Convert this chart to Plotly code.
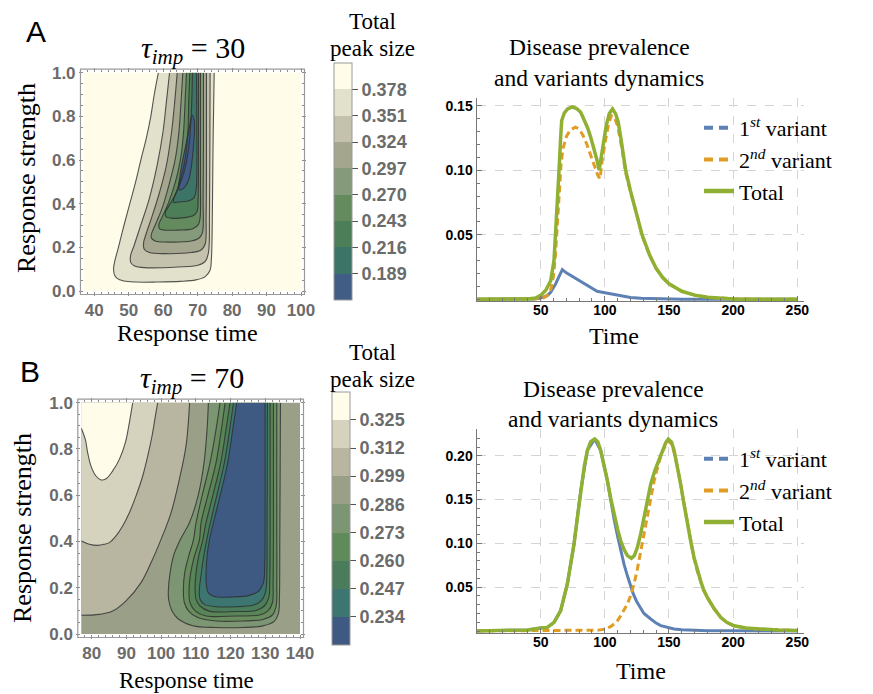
import plotly.graph_objects as go

W, H = 873, 694
OFFSET = 8  # the page shows the figure 8 px right of and below the window corner

# ---------------- Panel A : contour (tau_imp = 30) ----------------
A_levels = [0.189, 0.216, 0.243, 0.270, 0.297, 0.324, 0.351, 0.378]
A_colors = ["#415c85", "#3d7468", "#4c7e58", "#648b5e", "#849a7a",
            "#a4a68e", "#c4c2ac", "#e2e1cc", "#fffde9"]
A_time_ticks = [40, 50, 60, 70, 80, 90, 100]
A_time_range = [37, 100]

# contour boundaries (response time, response strength)
A_c378_x = [58.6, 57.4, 56.4, 55.1, 53.5, 52.0, 50.3, 48.6, 47.0, 46.0, 45.6, 45.8, 46.6,
            48.6, 52.0, 58.0, 65.0, 69.5, 72.2, 73.6, 74.0, 74.3, 74.5, 74.8]
A_c378_y = [1.0, 0.9, 0.8, 0.7, 0.6, 0.5, 0.4, 0.3, 0.2, 0.14, 0.105, 0.076, 0.058,
            0.046, 0.041, 0.041, 0.044, 0.051, 0.066, 0.095, 0.150, 0.400, 0.700, 1.0]
A_c351_x = [61.84, 61.0, 59.9, 58.2, 55.9, 53.4, 51.5, 50.5, 50.6, 51.7, 54.5, 64.25,
            70.05, 72.27, 73.14, 73.43, 73.53, 73.62]
A_c351_y = [1.0, 0.878, 0.725, 0.573, 0.420, 0.298, 0.206, 0.160, 0.130, 0.115, 0.107, 0.110,
            0.118, 0.137, 0.176, 0.344, 0.573, 1.0]
A_c324_x = [64.06, 63.4, 62.4, 60.9, 58.9, 56.8, 55.0, 54.3, 54.5, 56.0, 60.39, 68.12,
            71.01, 72.17, 72.46, 72.56, 72.56]
A_c324_y = [1.0, 0.878, 0.725, 0.573, 0.450, 0.344, 0.260, 0.221, 0.191, 0.176, 0.171, 0.176,
            0.188, 0.214, 0.344, 0.573, 1.0]
A_c297_x = [65.70, 65.22, 64.54, 63.48, 61.84, 59.90, 57.97, 56.71, 56.52, 57.68, 61.35, 68.12,
            70.53, 71.40, 71.59, 71.69, 71.69]
A_c297_y = [1.0, 0.878, 0.725, 0.603, 0.496, 0.389, 0.313, 0.267, 0.244, 0.229, 0.224, 0.229,
            0.244, 0.267, 0.420, 0.725, 1.0]
A_c270_x = [66.76, 66.38, 65.89, 65.02, 63.48, 61.55, 59.61, 58.74, 58.94, 60.39, 64.25, 68.60,
            70.24, 70.72, 70.82, 70.82, 70.82]
A_c270_y = [1.0, 0.878, 0.725, 0.603, 0.496, 0.405, 0.336, 0.305, 0.285, 0.279, 0.279, 0.285,
            0.305, 0.336, 0.496, 0.725, 1.0]
A_c243_x = [67.73, 67.44, 67.15, 66.38, 65.02, 63.29, 61.35, 60.58, 60.87, 62.32, 66.18, 68.89,
            69.86, 70.14, 70.24, 70.24]
A_c243_y = [1.0, 0.878, 0.725, 0.603, 0.511, 0.435, 0.382, 0.359, 0.340, 0.334, 0.336, 0.347,
            0.366, 0.420, 0.573, 1.0]
A_c216_x = [68.50, 68.31, 68.12, 67.34, 66.0, 64.25, 63.0, 63.0, 64.25, 67.15, 68.89, 69.57,
            69.76, 69.66]
A_c216_y = [1.0, 0.878, 0.802, 0.649, 0.542, 0.466, 0.420, 0.405, 0.408, 0.412, 0.427, 0.466,
            0.573, 1.0]
A_c189_x = [68.45, 67.6, 66.5, 65.5, 64.8, 64.45, 64.8, 66.0, 67.3, 68.2, 68.8, 69.1,
            68.95, 68.45]
A_c189_y = [0.805, 0.752, 0.664, 0.588, 0.519, 0.478, 0.462, 0.472, 0.505, 0.573, 0.664, 0.740,
            0.784, 0.805]

# ---------------- Panel B : contour (tau_imp = 70) ----------------
B_levels = [0.234, 0.247, 0.260, 0.273, 0.286, 0.299, 0.312, 0.325]
B_colors = ["#3f5a82", "#3d7570", "#4a7b5a", "#5f8a5a", "#7c9572",
            "#9aa088", "#b8b5a0", "#d5d3bd", "#fffde9"]
B_time_ticks = [80, 90, 100, 110, 120, 130, 140]
B_time_range = [77, 140]

B_c325_x = [76.0, 77.0, 78.17, 78.84, 79.80, 81.24, 82.68, 84.12, 86.04, 87.96, 89.69, 90.85, 91.81, 92.3]
B_c325_y = [0.89, 0.89, 0.841, 0.784, 0.726, 0.683, 0.666, 0.671, 0.705, 0.755, 0.827, 0.914, 1.0, 1.05]
B_c312_x = [76.0, 77.0, 79.32, 81.72, 83.64, 85.08, 87.0, 88.92, 90.85, 92.77, 94.69, 96.13, 97.38,
            98.34, 99.01, 99.3]
B_c312_y = [0.402, 0.402, 0.388, 0.383, 0.388, 0.395, 0.424, 0.467, 0.524, 0.597, 0.683, 0.769,
            0.856, 0.942, 1.0, 1.05]
B_c299_x = [76.0, 77.0, 82.20, 86.04, 89.89, 94.21, 97.09, 99.97, 102.85, 105.25, 107.17, 108.2, 108.4]
B_c299_y = [0.081, 0.081, 0.085, 0.099, 0.143, 0.222, 0.308, 0.409, 0.524, 0.669, 0.813, 1.0, 1.05]

B_v1_x = [113.61, 113.23, 112.36, 110.64, 108.14, 105.45, 103.53, 102.56, 102.08, 102.18, 103.14,
          104.87, 109.10, 115.82, 123.51, 129.27, 132.64, 133.79, 134.08, 134.18, 134.27, 134.37]
B_v1_y = [1.0, 0.885, 0.741, 0.597, 0.481, 0.406, 0.337, 0.262, 0.190, 0.147, 0.099,
          0.066, 0.036, 0.028, 0.028, 0.035, 0.056, 0.089, 0.164, 0.380, 0.669, 1.0]
B_v2_x = [116.97, 115.82, 114.09, 111.79, 110.06, 109.29, 107.94, 106.79, 106.41, 106.70, 107.94,
          110.54, 115.82, 123.51, 129.27, 131.96, 133.12, 133.31, 133.31, 133.31]
B_v2_y = [1.0, 0.885, 0.741, 0.597, 0.481, 0.406, 0.337, 0.265, 0.190, 0.135, 0.099,
          0.071, 0.056, 0.056, 0.063, 0.081, 0.121, 0.222, 0.452, 1.0]
B_v3_x = [118.42, 117.36, 115.82, 113.42, 111.50, 111.02, 109.58, 108.52, 108.04, 108.33, 109.87,
          112.94, 121.59, 128.31, 130.72, 132.06, 132.25, 132.35, 132.35]
B_v3_y = [1.0, 0.885, 0.741, 0.597, 0.481, 0.406, 0.337, 0.265, 0.190, 0.135, 0.099,
          0.078, 0.078, 0.082, 0.099, 0.135, 0.222, 0.452, 1.0]
B_v4_x = [119.86, 118.70, 117.17, 114.86, 112.94, 111.98, 110.83, 110.06, 109.77, 110.06, 111.21,
          113.90, 121.59, 127.35, 129.75, 131.00, 131.29, 131.39, 131.39]
B_v4_y = [1.0, 0.885, 0.741, 0.597, 0.481, 0.406, 0.337, 0.265, 0.190, 0.150, 0.121,
          0.099, 0.097, 0.102, 0.121, 0.157, 0.236, 0.452, 1.0]
B_v5_x = [120.82, 119.76, 118.22, 116.01, 114.19, 113.13, 112.27, 111.60, 111.02, 111.21, 112.46,
          115.82, 121.59, 126.39, 128.79, 130.04, 130.43, 130.52, 130.62]
B_v5_y = [1.0, 0.885, 0.741, 0.597, 0.481, 0.406, 0.337, 0.265, 0.190, 0.150, 0.128,
          0.118, 0.118, 0.124, 0.143, 0.179, 0.251, 0.452, 1.0]
B_v6_x = [121.78, 120.63, 119.18, 116.97, 115.05, 113.90, 113.23, 112.94, 113.04, 113.71, 115.82,
          120.63, 125.43, 128.12, 129.47, 129.85, 129.95, 129.95, 129.95]
B_v6_y = [1.0, 0.885, 0.741, 0.597, 0.481, 0.406, 0.337, 0.265, 0.208, 0.176, 0.161,
          0.160, 0.167, 0.186, 0.222, 0.308, 0.452, 0.741, 1.0]

# ---------------- Line chart A ----------------
A_t_total = [0, 40, 46, 50, 54, 57.8, 60.4, 61.7, 63, 64.3, 65.6, 66.4, 68.5, 71, 74.7, 78, 81.2, 84,
             86.4, 89, 91.6, 93.6, 95.6, 98, 101, 103.5, 106, 108.5, 110.5, 112.4, 114.5, 116.3, 120,
             125, 129, 135, 140, 145, 150, 160, 170, 180, 190, 200, 220, 250]
A_total = [0, 0.0002, 0.001, 0.003, 0.007, 0.0144, 0.030, 0.0506, 0.074, 0.0997, 0.1256, 0.1385,
           0.1445, 0.1475, 0.149, 0.1478, 0.1449, 0.139, 0.1333, 0.1255, 0.1165, 0.109, 0.100,
           0.117, 0.134, 0.144, 0.1475, 0.1436, 0.137, 0.1255, 0.112, 0.0997, 0.084, 0.066, 0.050,
           0.034, 0.024, 0.017, 0.012, 0.0062, 0.0032, 0.0016, 0.0008, 0.0003, 0.0001, 0]
A_t_second = [0, 50, 53, 56, 58, 60, 61.5, 63, 64.5, 66, 67.5, 70, 73, 77, 80, 83, 86, 89, 92, 94.5,
              96.3, 98, 100.5, 103, 105.2, 107.5, 110, 112.4, 116.3, 120, 125, 129, 135, 140, 145,
              150, 160, 170, 180, 190, 200, 220, 250]
A_second = [0, 0.0005, 0.0015, 0.004, 0.008, 0.018, 0.034, 0.060, 0.086, 0.106, 0.117, 0.126, 0.131,
            0.1333, 0.132, 0.127, 0.120, 0.112, 0.103, 0.096, 0.0933, 0.108, 0.123, 0.136, 0.1423,
            0.141, 0.134, 0.122, 0.098, 0.083, 0.0655, 0.0495, 0.0337, 0.0238, 0.0169, 0.0119,
            0.0062, 0.0032, 0.0016, 0.0008, 0.0003, 0.0001, 0]
A_t_first = [0, 45, 50, 55.2, 57.8, 60.4, 61.7, 64, 66.9, 70, 75, 80, 85, 90, 94, 98, 102, 106, 110,
             115, 120, 128, 140, 160, 250]
A_first = [0, 0.0003, 0.001, 0.0028, 0.0053, 0.0094, 0.0119, 0.017, 0.023, 0.0205, 0.0175, 0.0145,
           0.0115, 0.0085, 0.0062, 0.0055, 0.0048, 0.004, 0.003, 0.002, 0.0013, 0.0007, 0.0003,
           0.0001, 0]

# ---------------- Line chart B ----------------
B_t_total = [0, 30, 40, 50, 55.2, 60.4, 65.6, 70.8, 73.5, 76, 78.5, 81.2, 84, 86.4, 89, 92.1, 94.5,
             96.8, 99.5, 102, 104.5, 107.2, 110, 112.4, 115, 117.6, 120.7, 123, 125.4, 128, 130.6,
             133.2, 135.8, 139, 142.2, 145.5, 147.5, 149.5, 152, 154, 156.5, 159.1, 161.7, 164.3,
             167, 169.5, 172, 174.7, 177, 179.9, 185, 190.3, 195, 200.7, 210, 219, 235, 250]
B_total = [0, 0.0005, 0.0012, 0.0034, 0.0041, 0.0098, 0.0232, 0.0537, 0.075, 0.0993, 0.128, 0.160,
           0.188, 0.206, 0.216, 0.2192, 0.216, 0.206, 0.19, 0.1716, 0.152, 0.1335, 0.116, 0.103,
           0.093, 0.086, 0.083, 0.086, 0.0955, 0.111, 0.1298, 0.149, 0.1678, 0.183, 0.1945, 0.207,
           0.215, 0.219, 0.2155, 0.206, 0.189, 0.1678, 0.145, 0.122, 0.102, 0.084, 0.069, 0.057,
           0.047, 0.0384, 0.026, 0.0156, 0.010, 0.006, 0.0035, 0.0023, 0.001, 0.0005]
B_t_first = [0, 30, 40, 50, 55.2, 60.4, 65.6, 70.8, 76, 81.2, 86.4, 92.1, 96.8, 102, 104.5, 107.2,
             110, 112.4, 115, 117.6, 120, 122.1, 124.7, 127.3, 130.5, 135.8, 140, 143.6, 150, 154,
             160, 170, 180, 200, 250]
B_first = [0, 0.0005, 0.0012, 0.0034, 0.0041, 0.0098, 0.0232, 0.0537, 0.0993, 0.160, 0.206, 0.2192,
           0.206, 0.1716, 0.150, 0.128, 0.108, 0.0917, 0.076, 0.063, 0.052, 0.0426, 0.034, 0.0274,
           0.020, 0.0137, 0.009, 0.0061, 0.0035, 0.0023, 0.0014, 0.0007, 0.0004, 0.0002, 0]
B_t_second = [0, 95, 100, 102, 104.5, 107.2, 110, 112.4, 115, 117.6, 120, 122.8, 125.4, 128, 130.6,
              133.2, 135.8, 138.4, 141, 143.6, 146, 148, 149.5, 152, 154, 156.5, 159.1, 161.7,
              164.3, 167, 169.5, 172, 174.7, 177, 179.9, 185, 190.3, 195, 200.7, 210, 219, 235, 250]
B_second = [0, 0.001, 0.002, 0.0034, 0.005, 0.008, 0.012, 0.0175, 0.024, 0.0308, 0.040, 0.0537,
            0.071, 0.0913, 0.112, 0.133, 0.152, 0.171, 0.186, 0.200, 0.208, 0.213, 0.2165, 0.2135,
            0.2037, 0.1875, 0.1665, 0.1442, 0.1213, 0.1014, 0.0835, 0.0686, 0.0567, 0.0467, 0.0381,
            0.0258, 0.0155, 0.0099, 0.0058, 0.0034, 0.0022, 0.001, 0.0005]

line_ticks = [50, 100, 150, 200, 250]
A_prev_ticks = [0.05, 0.10, 0.15]
B_prev_ticks = [0.05, 0.10, 0.15, 0.20]
strength_ticks = [0.0, 0.2, 0.4, 0.6, 0.8, 1.0]

C_BLUE, C_ORANGE, C_GREEN = "#5E81B5", "#E19C24", "#8FB032"
LINE_GRAY = "rgba(45,45,45,0.8)"
SERIF = "Liberation Serif"
SANS = "Liberation Sans"


def px(x):
    return (x - OFFSET) / W


def py(y):
    return 1 - (y - OFFSET) / H


fig = go.Figure()


def add_fill(x, y, color, xa, ya):
    fig.add_trace(go.Scatter(x=x, y=y, mode="lines", fill="toself", fillcolor=color,
                             line=dict(width=0, shape="spline", smoothing=1),
                             hoverinfo="skip", showlegend=False, xaxis=xa, yaxis=ya))


def add_line(x, y, xa, ya):
    fig.add_trace(go.Scatter(x=x, y=y, mode="lines",
                             line=dict(width=1.1, color=LINE_GRAY, shape="spline", smoothing=1),
                             hoverinfo="skip", showlegend=False, xaxis=xa, yaxis=ya))


# Panel A contour regions (outer to inner)
A_curves = [(A_c378_x, A_c378_y), (A_c351_x, A_c351_y), (A_c324_x, A_c324_y),
            (A_c297_x, A_c297_y), (A_c270_x, A_c270_y), (A_c243_x, A_c243_y),
            (A_c216_x, A_c216_y), (A_c189_x, A_c189_y)]
for i, (cx, cy) in enumerate(A_curves):
    add_fill(cx, cy, A_colors[7 - i], "x", "y")
for cx, cy in A_curves:
    add_line(cx, cy, "x", "y")

# Panel B contour regions
B_corner = [(B_c299_x, B_c299_y, B_colors[6]), (B_c312_x, B_c312_y, B_colors[7]),
            (B_c325_x, B_c325_y, B_colors[8])]
for cx, cy, col in B_corner:
    add_fill([cx[0]] + cx, [cy[-1]] + cy, col, "x3", "y3")
B_valley = [(B_v1_x, B_v1_y, B_colors[4]), (B_v2_x, B_v2_y, "#6a8d60"), (B_v3_x, B_v3_y, "#588458"),
            (B_v4_x, B_v4_y, "#4b7d5a"), (B_v5_x, B_v5_y, B_colors[1]), (B_v6_x, B_v6_y, B_colors[0])]
for cx, cy, col in B_valley:
    add_fill(cx, cy, col, "x3", "y3")
for cx, cy, col in B_corner:
    add_line(cx[1:-1], cy[1:-1], "x3", "y3")
for cx, cy, col in B_valley:
    add_line(cx, cy, "x3", "y3")


# colorbars (stepped)
def stepped(colors):
    n = len(colors)
    cs = []
    for i, c in enumerate(colors):
        cs.append([i / n, c])
        cs.append([(i + 1) / n, c])
    return cs


def add_colorbar(levels, colors, xa, ya, x0, ymid, length):
    step = levels[1] - levels[0]
    fig.add_trace(go.Scatter(
        x=[None], y=[None], mode="markers", showlegend=False, hoverinfo="skip", xaxis=xa, yaxis=ya,
        marker=dict(color=[levels[0]], colorscale=stepped(colors), cmin=levels[0] - step,
                    cmax=levels[-1] + step, showscale=True,
                    colorbar=dict(x=x0, xanchor="left", xpad=0, y=ymid, yanchor="middle", ypad=0,
                                  len=length, lenmode="fraction", thickness=18,
                                  outlinewidth=1, outlinecolor="#9a9a9a",
                                  ticks="outside", ticklen=6, tickcolor="#555",
                                  tickvals=levels, ticktext=["%.3f" % v for v in levels],
                                  tickfont=dict(family=SANS, size=18, color="#6b6b6b", weight="bold")))))


cbA = dict(x=px(334), ymid=py(181.5), length=237 / H)
cbB = dict(x=px(332.3), ymid=py(518.3), length=253.3 / H)
add_colorbar(A_levels, A_colors, "x", "y", cbA["x"], cbA["ymid"], cbA["length"])
add_colorbar(B_levels, B_colors, "x3", "y3", cbB["x"], cbB["ymid"], cbB["length"])

# line charts
for (t1, v1, t2, v2, tt, vt, xa, ya) in [
        (A_t_first, A_first, A_t_second, A_second, A_t_total, A_total, "x2", "y2"),
        (B_t_first, B_first, B_t_second, B_second, B_t_total, B_total, "x4", "y4")]:
    fig.add_trace(go.Scatter(x=t1, y=v1, mode="lines", line=dict(color=C_BLUE, width=3),
                             showlegend=False, xaxis=xa, yaxis=ya))
    fig.add_trace(go.Scatter(x=t2, y=v2, mode="lines", line=dict(color=C_ORANGE, width=3, dash="7px,4px"),
                             showlegend=False, xaxis=xa, yaxis=ya))
    fig.add_trace(go.Scatter(x=tt, y=vt, mode="lines", line=dict(color=C_GREEN, width=3.5),
                             showlegend=False, xaxis=xa, yaxis=ya))

legend_names = ["1<sup><i>st</i></sup> variant", "2<sup><i>nd</i></sup> variant", "Total"]
legend_styles = [dict(color=C_BLUE, width=4, dash="9px,6px"), dict(color=C_ORANGE, width=4, dash="9px,6px"),
                 dict(color=C_GREEN, width=4.5)]
for lg, xa, ya in [("legend", "x2", "y2"), ("legend2", "x4", "y4")]:
    for nm, st in zip(legend_names, legend_styles):
        fig.add_trace(go.Scatter(x=[None], y=[None], mode="lines", line=st, name=nm, legend=lg,
                                 xaxis=xa, yaxis=ya))

# ---------------- axes ----------------
A_dom_x = [px(83.97), px(301.0)]
A_dom_y = [py(291.0), py(72.7)]
B_dom_x = [px(81.28), px(300.0)]
B_dom_y = [py(634.0), py(402.7)]
LA_dom_x = [px(476.5), px(803.7)]
LA_dom_y = [py(301.2), py(98.3)]
LB_dom_y = [py(632.75), py(429.3)]

cont_tickfont = dict(family=SANS, size=17, color="#6b6b6b", weight="bold")
line_tickfont = dict(family=SANS, size=14, color="black", weight="bold")


def cont_axis(dom, rng, tickvals, minor_dtick, standoff, fmt=None):
    d = dict(domain=dom, range=rng, tickvals=tickvals, ticks="outside", ticklen=4, tickcolor="#8a8a8a",
             tickwidth=1, showgrid=False, zeroline=False, showline=False, mirror="ticks",
             tickfont=cont_tickfont, ticklabelstandoff=standoff,
             minor=dict(ticks="outside", ticklen=2, tickcolor="#8a8a8a", dtick=minor_dtick,
                        tick0=0, showgrid=False))
    if fmt:
        d["tickformat"] = fmt
    return d


def line_axis(dom, rng, tickvals, minor_dtick, anchor, standoff, fmt=None):
    d = dict(domain=dom, range=rng, tickvals=tickvals, ticks="inside", ticklen=5, tickcolor="#777",
             showgrid=True, gridcolor="#d4d4d4", griddash="dash", gridwidth=1, zeroline=False,
             showline=True, linecolor="#777", linewidth=1, tickfont=line_tickfont, anchor=anchor,
             ticklabelstandoff=standoff,
             minor=dict(ticks="inside", ticklen=3, tickcolor="#777", dtick=minor_dtick, tick0=0,
                        showgrid=False))
    if fmt:
        d["tickformat"] = fmt
    return d


fig.update_layout(
    width=W, height=H, margin=dict(l=0, r=0, t=0, b=0, autoexpand=False),
    paper_bgcolor="white", plot_bgcolor="white",
    xaxis=dict(cont_axis(A_dom_x, A_time_range, A_time_ticks, 2, 0), anchor="y"),
    yaxis=dict(cont_axis(A_dom_y, [0, 1], strength_ticks, 0.05, 0, ".1f"), anchor="x"),
    xaxis3=dict(cont_axis(B_dom_x, B_time_range, B_time_ticks, 2, 0), anchor="y3"),
    yaxis3=dict(cont_axis(B_dom_y, [0, 1], strength_ticks, 0.05, 0, ".1f"), anchor="x3"),
    xaxis2=line_axis(LA_dom_x, [0, 255], line_ticks, 10, "y2", -4),
    yaxis2=line_axis(LA_dom_y, [-0.0015, 0.1557], A_prev_ticks, 0.01, "x2", 0, ".2f"),
    xaxis4=line_axis(LA_dom_x, [0, 255], line_ticks, 10, "y4", -4),
    yaxis4=line_axis(LB_dom_y, [-0.002, 0.2302], B_prev_ticks, 0.01, "x4", 0, ".2f"),
    legend=dict(x=px(699), y=py(107), xanchor="left", yanchor="top", bgcolor="rgba(0,0,0,0)",
                font=dict(family=SERIF, size=22, color="black"), itemwidth=30, tracegroupgap=0),
    legend2=dict(x=px(699), y=py(438), xanchor="left", yanchor="top", bgcolor="rgba(0,0,0,0)",
                 font=dict(family=SERIF, size=22, color="black"), itemwidth=30, tracegroupgap=0),
)

shapes = []
# base colour of each contour panel
shapes.append(dict(type="rect", xref="x domain", yref="y domain", x0=0, x1=1, y0=0, y1=1,
                   fillcolor=A_colors[8], line=dict(width=0), layer="below"))
shapes.append(dict(type="rect", xref="x3 domain", yref="y3 domain", x0=0, x1=1, y0=0, y1=1,
                   fillcolor=B_colors[5], line=dict(width=0), layer="below"))
# frames
for (x0, x1, y0, y1) in [(83.97, 301.0, 291.0, 72.7), (81.28, 300.0, 634.0, 402.7)]:
    shapes.append(dict(type="rect", xref="paper", yref="paper", x0=px(x0 - 3.5), x1=px(x1 + 3.5),
                       y0=py(y0 + 3.5), y1=py(y1 - 3.5), line=dict(color="#9a9a9a", width=1.2)))
# contour lines inside colour bars
for cb in (cbA, cbB):
    ybot = cb["ymid"] - cb["length"] / 2
    for k in range(1, 9):
        yk = ybot + k * cb["length"] / 9
        shapes.append(dict(type="line", xref="paper", yref="paper", x0=cb["x"], x1=cb["x"] + 18 / W,
                           y0=yk, y1=yk, line=dict(color="#3a3a3a", width=1)))
fig.update_layout(shapes=shapes)


def ann(text, x, y, size, family=SERIF, angle=0, color="black", yanchor="middle", pad=1):
    return dict(text=text, x=px(x), y=py(y), xref="paper", yref="paper", showarrow=False,
                xanchor="center", yanchor=yanchor, textangle=angle, borderpad=pad,
                font=dict(family=family, size=size, color=color))


annotations = [
    ann("A", 36, 31, 30, SANS), ann("B", 30, 371, 30, SANS),
    ann("<i>τ</i><sub><i>imp</i></sub> = 30", 193, 50, 30),
    ann("<i>τ</i><sub><i>imp</i></sub> = 70", 192, 380, 30),
    ann("Total", 372, 35, 23, yanchor="bottom", pad=0), ann("peak size", 372, 35, 23, yanchor="top", pad=0),
    ann("Total", 372, 366, 23, yanchor="bottom", pad=0), ann("peak size", 372, 366, 23, yanchor="top", pad=0),
    ann("Response time", 187, 333, 24), ann("Response time", 186, 680, 23),
    ann("Response strength", 27, 178, 26, angle=-90), ann("Response strength", 22, 528, 26, angle=-90),
    ann("Disease prevalence", 599.5, 47, 23.5), ann("and variants dynamics", 599, 77.5, 23.5),
    ann("Disease prevalence", 613, 389, 23.5), ann("and variants dynamics", 613, 419, 23.5),
    ann("Time", 614, 336, 24), ann("Time", 641, 671, 24),
]
fig.update_layout(annotations=annotations)

fig.write_html("out.html")
